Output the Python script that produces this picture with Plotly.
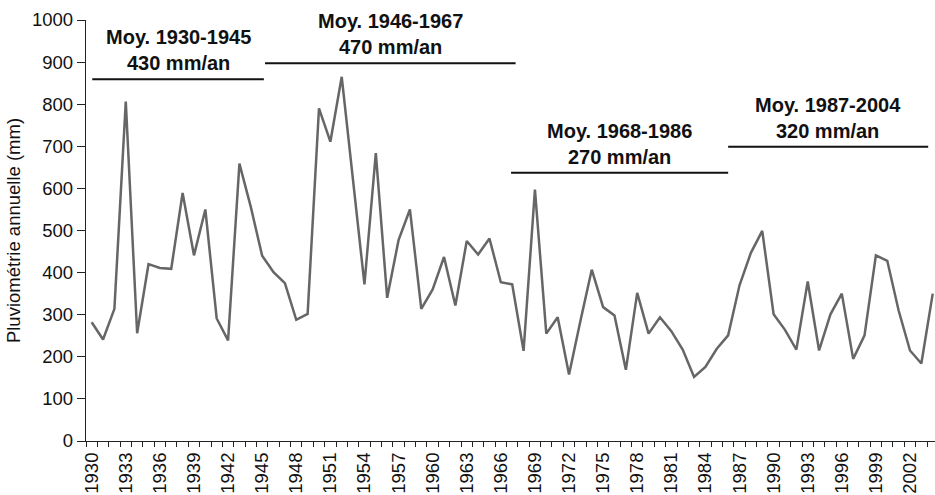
import plotly.graph_objects as go

years = list(range(1930, 2005))
rain_mm = [282, 241, 314, 806, 256, 420, 411, 409, 589, 441,
           550, 291, 239, 659, 556, 440, 401, 375, 288, 302,
           790, 711, 865, 620, 372, 684, 340, 477, 550, 314,
           360, 437, 322, 475, 443, 481, 377, 372, 214, 597,
           255, 294, 158, 285, 407, 318, 298, 169, 352, 255,
           294, 261, 217, 152, 176, 219, 251, 370, 447, 499,
           301, 264, 217, 379, 215, 301, 350, 195, 251, 441,
           428, 310, 215, 184, 350]

tick_years = list(range(1930, 2005, 3))
tick_labels = [str(y) for y in tick_years]

# Period mean annotations
period_titles = ["Moy. 1930-1945", "Moy. 1946-1967", "Moy. 1968-1986", "Moy. 1987-2004"]
period_means = ["430 mm/an", "470 mm/an", "270 mm/an", "320 mm/an"]
period_start = [1930.05, 1945.25, 1966.9, 1986.0]
period_end = [1945.15, 1967.3, 1986.0, 2003.6]
period_level = [859, 897, 637, 699]

FONT = "Liberation Sans, Arial, sans-serif"

fig = go.Figure()
fig.add_trace(go.Scatter(
    x=years, y=rain_mm, mode="lines",
    line=dict(color="#666666", width=2.5),
    showlegend=False, hoverinfo="x+y"))

for t, m, x0, x1, lv in zip(period_titles, period_means, period_start, period_end, period_level):
    fig.add_shape(type="line", x0=x0, x1=x1, y0=lv, y1=lv, xref="x", yref="y",
                  line=dict(color="#111111", width=2))
    fig.add_annotation(x=(x0 + x1) / 2, y=lv, xref="x", yref="y",
                       text=f"<b>{t}</b><br><b>{m}</b>", showarrow=False,
                       yanchor="bottom", yshift=3,
                       font=dict(size=20, color="#111111", family=FONT))

fig.update_layout(
    width=935, height=495,
    margin=dict(l=86, r=0, t=20, b=54, autoexpand=False),
    plot_bgcolor="white", paper_bgcolor="white",
    font=dict(family=FONT, size=18.5, color="#111111"),
    xaxis=dict(
        range=[1929.5, 2004.2], automargin=False,
        tickmode="array", tickvals=tick_years, ticktext=tick_labels,
        tickangle=-90, ticks="", showgrid=False, zeroline=False,
        showline=True, linecolor="#222222", linewidth=1.3,
        tickfont=dict(size=18.5), ticklabelstandoff=3,
        minor=dict(tick0=1929.5, dtick=1, ticks="outside", ticklen=5,
                   tickcolor="#222222", tickwidth=1, showgrid=False),
    ),
    yaxis=dict(
        range=[0, 1000], automargin=False, tickmode="linear", tick0=0, dtick=100,
        ticks="outside", ticklen=8, tickcolor="#222222", tickwidth=1.3,
        showline=True, linecolor="#222222", linewidth=1.3,
        showgrid=False, zeroline=False, tickfont=dict(size=18.5),
        title=dict(text="Pluviométrie annuelle (mm)", font=dict(size=18.5), standoff=6),
    ),
)

fig.write_html("out.html", config={"displayModeBar": False},
               post_script="document.body.style.margin='0';")
